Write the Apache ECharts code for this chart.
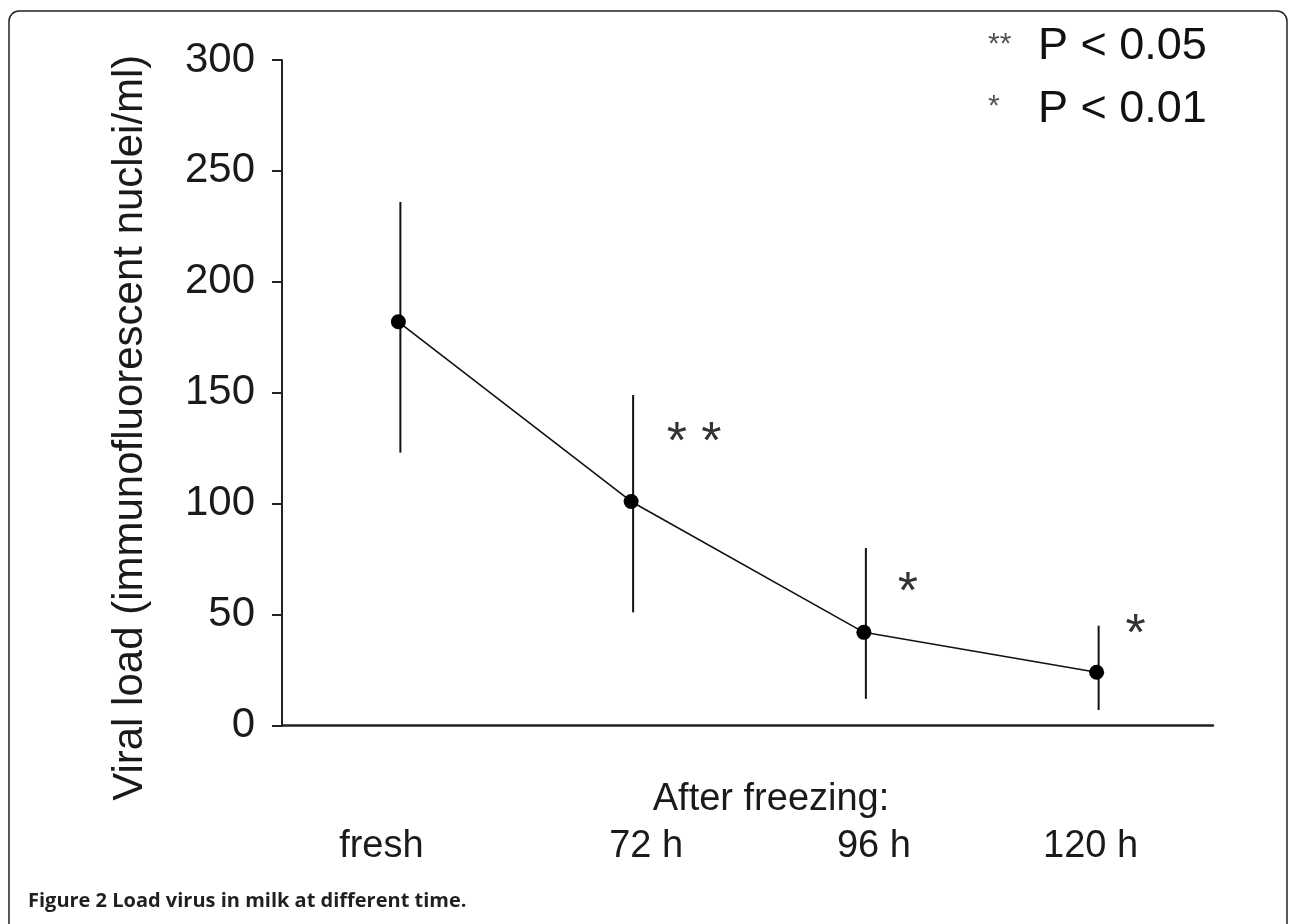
<!DOCTYPE html>
<html>
<head>
<meta charset="utf-8">
<script src="https://cdn.jsdelivr.net/npm/echarts@6/dist/echarts.min.js"></script>
<style>
  html, body { margin: 0; padding: 0; background: #fff; }
  #chart { width: 1292px; height: 924px; }
</style>
</head>
<body>
<div id="chart"></div>
<script>
// data
var categories = ["fresh", "72 h", "96 h", "120 h"];
var viralLoad = [182, 101, 42, 24];
var errLow = [123, 51, 12, 7];
var errHigh = [236, 149, 80, 45];
var sigMarks = ["", "* *", "*", "*"];
var yTicks = [0, 50, 100, 150, 200, 250, 300];

// where the stars sit relative to the point (px)
var starDx = [0, 63, 44, 39];
var starDy = [0, -58, -39, -37];
// small horizontal nudge of the category labels (px, + moves right)
var labelShift = [-17, 15, 10, -6];

var FONT = "'Liberation Sans', Arial, sans-serif";

var myChart = echarts.init(document.getElementById("chart"));

var errData = categories.map(function (c, i) {
  return [i, errLow[i], errHigh[i], viralLoad[i]];
});

var xData = categories.map(function (c, i) {
  var s = labelShift[i];
  return {
    value: c,
    textStyle: { padding: s > 0 ? [0, 0, 0, 2 * s] : [0, -2 * s, 0, 0] }
  };
});

myChart.setOption({
  animation: false,
  backgroundColor: "#fff",
  title: {
    left: 28,
    top: 891,
    padding: 0,
    text: "{b|Figure 2 Load virus in milk at different time}{n|.}",
    textStyle: {
      rich: {
        b: { fontFamily: "'Open Sans', sans-serif", fontWeight: "bold", fontSize: 20, color: "#231f20" },
        n: { fontFamily: "'Open Sans', sans-serif", fontSize: 20, color: "#231f20" }
      }
    }
  },
  graphic: [
    {
      type: "rect",
      shape: { x: 9, y: 11, width: 1278, height: 1000, r: 10 },
      style: { fill: "none", stroke: "#222", lineWidth: 1.5 },
      silent: true
    },
    {
      type: "text", left: 988, top: 30,
      style: { text: "**", font: "30px " + FONT, fill: "#555" }
    },
    {
      type: "text", left: 1038, top: 24,
      style: { text: "P < 0.05", font: "45px " + FONT, fill: "#111" }
    },
    {
      type: "text", left: 988, top: 92,
      style: { text: "*", font: "30px " + FONT, fill: "#555" }
    },
    {
      type: "text", left: 1038, top: 87,
      style: { text: "P < 0.01", font: "45px " + FONT, fill: "#111" }
    }
  ],
  grid: {
    left: 282,
    right: 79,
    top: 60,
    bottom: 198.5
  },
  xAxis: {
    type: "category",
    data: xData,
    boundaryGap: true,
    name: "After freezing:",
    nameLocation: "middle",
    nameGap: 55,
    nameMoveOverlap: false,
    nameTextStyle: {
      fontFamily: FONT,
      fontSize: 38,
      color: "#1a1a1a",
      padding: [0, 0, 0, 47]
    },
    axisLine: { lineStyle: { color: "#222", width: 2.5 } },
    axisTick: { show: false },
    axisLabel: {
      margin: 102,
      fontFamily: FONT,
      fontSize: 38,
      color: "#1a1a1a"
    },
    splitLine: { show: false }
  },
  yAxis: {
    type: "value",
    min: 0,
    max: 300,
    interval: 50,
    name: "Viral load (immunofluorescent nuclei/ml)",
    nameLocation: "middle",
    nameGap: 131,
    nameRotate: 90,
    nameMoveOverlap: false,
    nameTextStyle: {
      fontFamily: FONT,
      fontSize: 42,
      color: "#1a1a1a",
      padding: [0, 70, 0, 0]
    },
    axisLine: { show: true, lineStyle: { color: "#222", width: 2 } },
    axisTick: { show: true, length: 10, lineStyle: { color: "#222", width: 2 } },
    axisLabel: {
      margin: 27,
      fontFamily: FONT,
      fontSize: 42,
      color: "#1a1a1a",
      formatter: function (v) {
        return yTicks.indexOf(v) >= 0 ? String(v) : "";
      }
    },
    splitLine: { show: false }
  },
  series: [
    {
      type: "custom",
      name: "error",
      data: errData,
      z: 3,
      renderItem: function (params, api) {
        var i = api.value(0);
        var top = api.coord([i, api.value(2)]);
        var bot = api.coord([i, api.value(1)]);
        var pt = api.coord([i, api.value(3)]);
        var children = [
          {
            type: "line",
            shape: { x1: top[0] + 2, y1: top[1], x2: bot[0] + 2, y2: bot[1] },
            style: { stroke: "#111", lineWidth: 2 }
          }
        ];
        if (sigMarks[i]) {
          children.push({
            type: "text",
            style: {
              text: sigMarks[i],
              x: pt[0] + starDx[i],
              y: pt[1] + starDy[i],
              align: "center",
              verticalAlign: "middle",
              font: "52px " + FONT,
              fill: "#333"
            }
          });
        }
        return { type: "group", children: children };
      }
    },
    {
      type: "line",
      name: "Viral load",
      data: viralLoad,
      z: 4,
      symbol: "circle",
      symbolSize: 15,
      itemStyle: { color: "#000" },
      lineStyle: { color: "#111", width: 1.6 }
    }
  ]
});
</script>
</body>
</html>
